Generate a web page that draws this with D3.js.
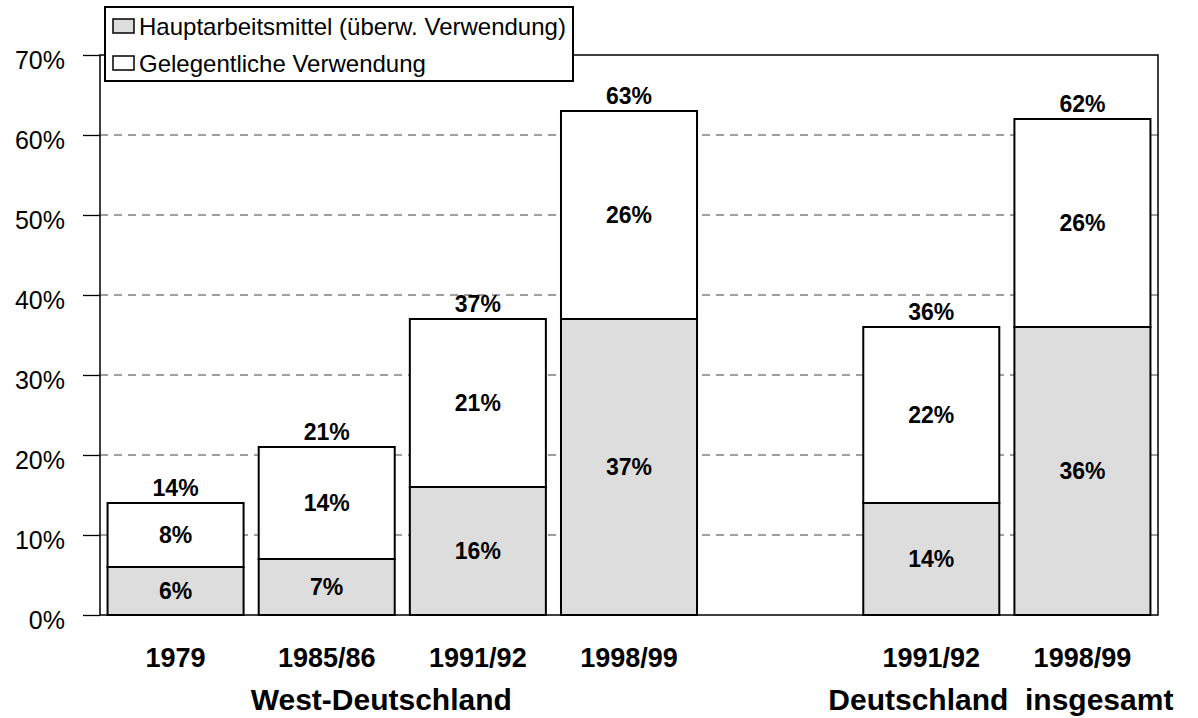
<!DOCTYPE html>
<html>
<head>
<meta charset="utf-8">
<script src="https://cdn.jsdelivr.net/npm/d3@7"></script>
<style>
  body { margin: 0; background: #fff; }
  svg text { font-family: "Liberation Sans", Arial, sans-serif; fill: #000; }
</style>
</head>
<body>
<svg id="chart" width="1198" height="718"></svg>
<script>
// Werte
var years = ["1979", "1985/86", "1991/92", "1998/99", "1991/92", "1998/99"];
var slots = [0, 1, 2, 3, 5, 6];            // Platz 4 bleibt leer (Lücke zwischen Gruppen)
var haupt = [6, 7, 16, 37, 14, 36];        // Hauptarbeitsmittel
var gelegentlich = [8, 14, 21, 26, 22, 26]; // Gelegentliche Verwendung
var yTicks = [0, 10, 20, 30, 40, 50, 60, 70];
var groups = ["West-Deutschland", "Deutschland  insgesamt"];
var groupSlots = [[0, 3], [5, 6]];
var legendLabels = ["Hauptarbeitsmittel (überw. Verwendung)", "Gelegentliche Verwendung"];

var svg = d3.select('#chart');

var plotLeft = 100, plotRight = 1158, plotTop = 55, plotBottom = 615;

var x = d3.scaleBand()
  .domain(d3.range(7))
  .range([plotLeft, plotRight])
  .paddingInner(0.1)
  .paddingOuter(0.05);

var y = d3.scaleLinear()
  .domain([0, 70])
  .range([plotBottom, plotTop]);

var rows = years.map(function (yr, i) {
  return { year: yr, slot: slots[i], h: haupt[i], g: gelegentlich[i], total: haupt[i] + gelegentlich[i] };
});

// Gitterlinien gestrichelt
svg.append('g')
  .selectAll('line')
  .data(yTicks.filter(function (d) { return d > 0 && d < 70; }))
  .enter().append('line')
  .attr('x1', plotLeft).attr('x2', plotRight)
  .attr('y1', function (d) { return y(d); })
  .attr('y2', function (d) { return y(d); })
  .style('stroke', '#808080')
  .style('stroke-width', 1.3)
  .style('stroke-dasharray', '8,6');

// y-Achse
var yAxis = d3.axisLeft(y)
  .tickValues(yTicks)
  .tickFormat(function (d) { return d + '%'; })
  .tickSize(17)
  .tickPadding(18);

var ga = svg.append('g')
  .attr('transform', 'translate(' + plotLeft + ',0)')
  .call(yAxis);
ga.select('.domain').remove();
ga.selectAll('line').style('stroke', '#000').style('stroke-width', 1.3);
ga.selectAll('text')
  .attr('dy', '0.55em')
  .style('font-size', '25px');

// Rahmen
svg.append('rect')
  .attr('x', plotLeft).attr('y', plotTop)
  .attr('width', plotRight - plotLeft).attr('height', plotBottom - plotTop)
  .style('fill', 'none')
  .style('stroke', '#000')
  .style('stroke-width', 1.5);

// Balken
var bars = svg.append('g')
  .selectAll('g')
  .data(rows)
  .enter().append('g');

bars.append('rect')
  .attr('x', function (d) { return x(d.slot); })
  .attr('width', x.bandwidth())
  .attr('y', function (d) { return y(d.h); })
  .attr('height', function (d) { return y(0) - y(d.h); })
  .style('fill', '#dddddd')
  .style('stroke', '#000')
  .style('stroke-width', 2);

bars.append('rect')
  .attr('x', function (d) { return x(d.slot); })
  .attr('width', x.bandwidth())
  .attr('y', function (d) { return y(d.total); })
  .attr('height', function (d) { return y(d.h) - y(d.total); })
  .style('fill', '#fff')
  .style('stroke', '#000')
  .style('stroke-width', 2);

function cx(d) { return x(d.slot) + x.bandwidth() / 2; }

bars.append('text')
  .attr('x', cx)
  .attr('y', function (d) { return (y(0) + y(d.h)) / 2; })
  .attr('dy', '0.36em')
  .attr('text-anchor', 'middle')
  .style('font-size', '23px')
  .style('font-weight', 'bold')
  .text(function (d) { return d.h + '%'; });

bars.append('text')
  .attr('x', cx)
  .attr('y', function (d) { return (y(d.h) + y(d.total)) / 2; })
  .attr('dy', '0.36em')
  .attr('text-anchor', 'middle')
  .style('font-size', '23px')
  .style('font-weight', 'bold')
  .text(function (d) { return d.g + '%'; });

bars.append('text')
  .attr('x', cx)
  .attr('y', function (d) { return y(d.total) - 7; })
  .attr('text-anchor', 'middle')
  .style('font-size', '23px')
  .style('font-weight', 'bold')
  .text(function (d) { return d.total + '%'; });

// Kategorien
bars.append('text')
  .attr('x', cx)
  .attr('y', 667)
  .attr('text-anchor', 'middle')
  .style('font-size', '27px')
  .style('font-weight', 'bold')
  .text(function (d) { return d.year; });

// Gruppenbeschriftung
svg.append('g')
  .selectAll('text')
  .data(groups)
  .enter().append('text')
  .attr('x', function (d, i) {
    var s = groupSlots[i];
    var mid = (x(s[0]) + x(s[1]) + x.bandwidth()) / 2;
    return i === 0 ? mid - 21 : mid - 6;
  })
  .attr('y', 710)
  .attr('text-anchor', 'middle')
  .attr('xml:space', 'preserve')
  .style('white-space', 'pre')
  .style('font-size', '30px')
  .style('font-weight', 'bold')
  .text(function (d) { return d; });

// Legende
var legend = svg.append('g');
legend.append('rect')
  .attr('x', 105).attr('y', 7)
  .attr('width', 468).attr('height', 74)
  .style('fill', '#fff')
  .style('stroke', '#000')
  .style('stroke-width', 2);

var li = legend.selectAll('g')
  .data(legendLabels)
  .enter().append('g')
  .attr('transform', function (d, i) { return 'translate(113,' + (19 + i * 37) + ')'; });

li.append('rect')
  .attr('width', 21).attr('height', 14)
  .style('fill', function (d, i) { return i === 0 ? '#dddddd' : '#fff'; })
  .style('stroke', '#000')
  .style('stroke-width', 1.5);

li.append('text')
  .attr('x', 26)
  .attr('y', 16)
  .style('font-size', '24px')
  .text(function (d) { return d; });
</script>
</body>
</html>
